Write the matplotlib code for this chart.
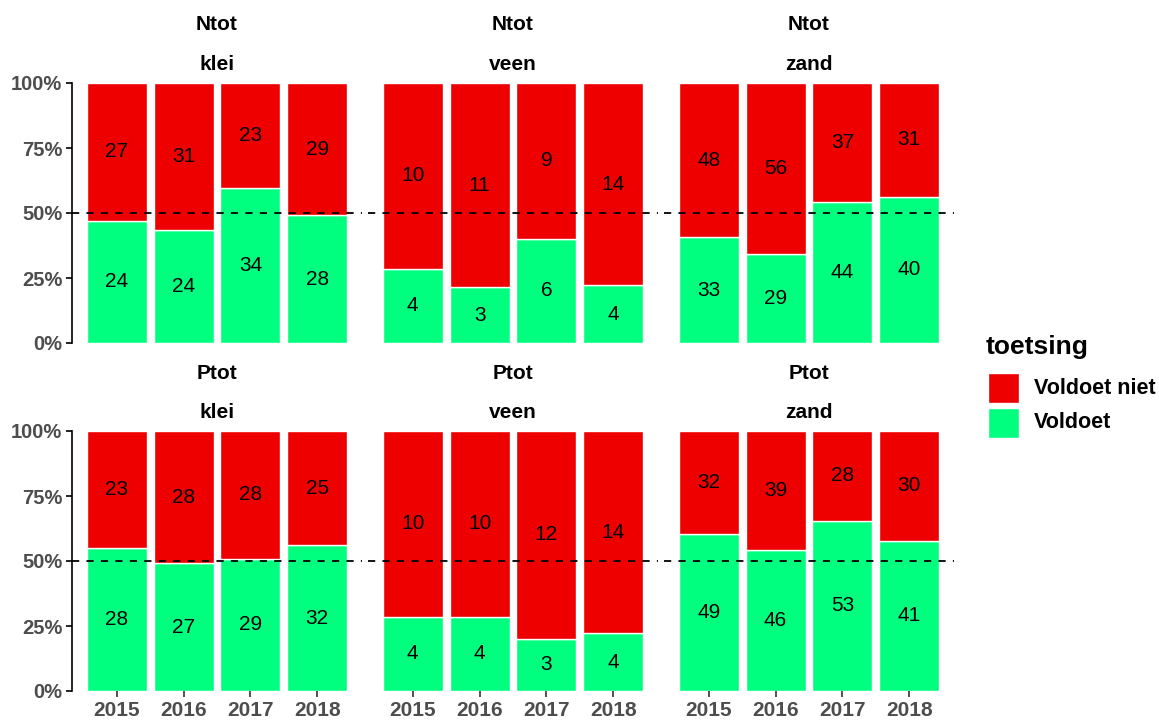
import matplotlib
matplotlib.use("Agg")
import matplotlib.pyplot as plt
from matplotlib.patches import Rectangle
import numpy as np

plt.rcParams['font.family'] = ['Liberation Sans', 'DejaVu Sans']

years = ["2015", "2016", "2017", "2018"]
parameters = ["Ntot", "Ptot"]
soils = ["klei", "veen", "zand"]

# Ntot
ntot_klei_voldoet = [24, 24, 34, 28]
ntot_klei_niet = [27, 31, 23, 29]
ntot_veen_voldoet = [4, 3, 6, 4]
ntot_veen_niet = [10, 11, 9, 14]
ntot_zand_voldoet = [33, 29, 44, 40]
ntot_zand_niet = [48, 56, 37, 31]
# Ptot
ptot_klei_voldoet = [28, 27, 29, 32]
ptot_klei_niet = [23, 28, 28, 25]
ptot_veen_voldoet = [4, 4, 3, 4]
ptot_veen_niet = [10, 10, 12, 14]
ptot_zand_voldoet = [49, 46, 53, 41]
ptot_zand_niet = [32, 39, 28, 30]

data = {
    ("Ntot", "klei"): (ntot_klei_voldoet, ntot_klei_niet),
    ("Ntot", "veen"): (ntot_veen_voldoet, ntot_veen_niet),
    ("Ntot", "zand"): (ntot_zand_voldoet, ntot_zand_niet),
    ("Ptot", "klei"): (ptot_klei_voldoet, ptot_klei_niet),
    ("Ptot", "veen"): (ptot_veen_voldoet, ptot_veen_niet),
    ("Ptot", "zand"): (ptot_zand_voldoet, ptot_zand_niet),
}

legend_title = "toetsing"
legend_labels = ["Voldoet niet", "Voldoet"]
col_niet = "#EE0000"
col_voldoet = "#00FF7F"
grey = "#4D4D4D"

W, H = 1159, 720
fig = plt.figure(figsize=(W / 100, H / 100), dpi=100)

panel_lefts = [72, 368, 664]
panel_w = 290
row_tops = [83, 431]
panel_h = 260

x = np.arange(1, len(years) + 1)
for r, param in enumerate(parameters):
    for c, soil in enumerate(soils):
        left = panel_lefts[c]
        top = row_tops[r]
        ax = fig.add_axes([left / W, (H - top - panel_h) / H, panel_w / W, panel_h / H])
        v, n = data[(param, soil)]
        v = np.array(v, float)
        n = np.array(n, float)
        tot = v + n
        fv = v / tot
        fn = n / tot
        ax.bar(x, fv, width=0.9, color=col_voldoet, edgecolor="white", linewidth=1)
        ax.bar(x, fn, bottom=fv, width=0.9, color=col_niet, edgecolor="white", linewidth=1)
        for i in range(len(x)):
            ax.text(x[i], fv[i] / 2, f"{int(v[i])}", ha="center", va="center", fontsize=15, color="black")
            ax.text(x[i], fv[i] + fn[i] / 2, f"{int(n[i])}", ha="center", va="center", fontsize=15, color="black")
        ax.axhline(0.5, color="black", linestyle=(0, (4, 4)), linewidth=1.3)
        ax.set_xlim(0.33, 4.67)
        ax.set_ylim(0, 1)
        for s in ["top", "right", "bottom"]:
            ax.spines[s].set_visible(False)
        if c == 0:
            ax.spines["left"].set_color("black")
            ax.spines["left"].set_linewidth(1.2)
            ax.set_yticks([0, 0.25, 0.5, 0.75, 1.0])
            ax.set_yticklabels(["0%", "25%", "50%", "75%", "100%"], fontsize=14.5,
                               fontweight="bold", color=grey)
            ax.tick_params(axis="y", length=4, width=1.2, color="black", pad=3)
        else:
            ax.spines["left"].set_visible(False)
            ax.set_yticks([])
        if r == 1:
            ax.set_xticks(x)
            ax.set_xticklabels(years, fontsize=15, fontweight="bold", color=grey)
            ax.tick_params(axis="x", length=4, width=1.2, color="#333333", pad=3)
        else:
            ax.set_xticks([])
        ax.patch.set_alpha(0)
        cx = (left + panel_w / 2) / W
        fig.text(cx, 1 - (top - 58) / H, param, ha="center", va="center",
                 fontsize=15, fontweight="bold", color="black")
        fig.text(cx, 1 - (top - 19) / H, soil, ha="center", va="center",
                 fontsize=15, fontweight="bold", color="black")

# legend (drawn manually in figure pixel space)
fig.text(986 / W, 1 - 347 / H, legend_title, ha="left", va="center",
         fontsize=19, fontweight="bold", color="black")
key_tops = [373, 408]
for lab, col, kt in zip(legend_labels, [col_niet, col_voldoet], key_tops):
    fig.patches.append(Rectangle((988 / W, 1 - (kt + 30) / H), 31 / W, 30 / H,
                                 transform=fig.transFigure, facecolor=col,
                                 edgecolor="white", linewidth=1))
    fig.text(1034 / W, 1 - (kt + 15) / H, lab, ha="left", va="center",
             fontsize=15.5, fontweight="bold", color="black")

fig.savefig("out.png", dpi=100)
